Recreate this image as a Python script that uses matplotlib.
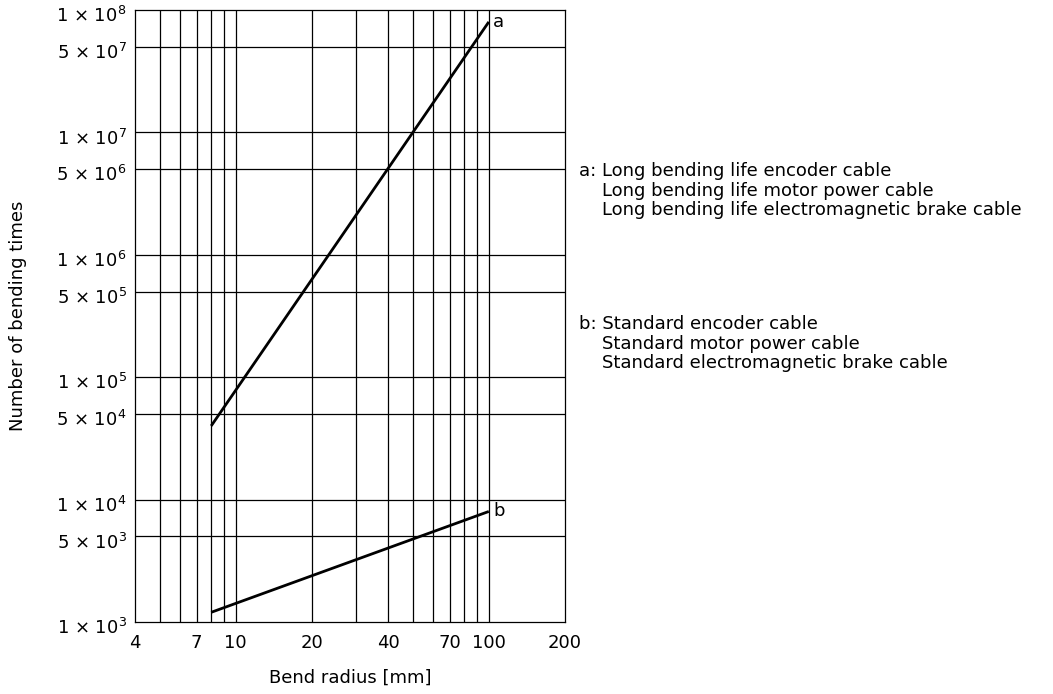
import matplotlib
matplotlib.use("Agg")
import matplotlib.pyplot as plt
from matplotlib.ticker import FixedLocator, NullLocator
from matplotlib.transforms import ScaledTranslation

plt.rcParams['font.family'] = ['DejaVu Sans']
plt.rcParams['mathtext.fontset'] = 'dejavusans'

# Data
radius_a = [8, 100]
times_a = [4e4, 8e7]
radius_b = [8, 100]
times_b = [1.2e3, 8e3]

x_grid = [5, 6, 7, 8, 9, 10, 20, 30, 40, 50, 60, 70, 80, 90, 100]
x_ticks = [4, 7, 10, 20, 40, 70, 100, 200]
y_ticks = [1e3, 5e3, 1e4, 5e4, 1e5, 5e5, 1e6, 5e6, 1e7, 5e7, 1e8]
y_labels = ['1 × 10$^{3}$', '5 × 10$^{3}$', '1 × 10$^{4}$', '5 × 10$^{4}$',
            '1 × 10$^{5}$', '5 × 10$^{5}$', '1 × 10$^{6}$', '5 × 10$^{6}$',
            '1 × 10$^{7}$', '5 × 10$^{7}$', '1 × 10$^{8}$']

legend_a = ["a: Long bending life encoder cable",
            "    Long bending life motor power cable",
            "    Long bending life electromagnetic brake cable"]
legend_b = ["b: Standard encoder cable",
            "    Standard motor power cable",
            "    Standard electromagnetic brake cable"]

FS = 13

fig = plt.figure(figsize=(10.53, 6.94), dpi=100)
ax = fig.add_axes([135/1053, 72/694, 430/1053, 612/694])
ax.set_xscale('log')
ax.set_yscale('log')
ax.set_xlim(4, 200)
ax.set_ylim(1e3, 1e8)

for xv in x_grid:
    ax.axvline(xv, color='black', lw=0.9, zorder=1)
for yv in y_ticks[1:-1]:
    ax.axhline(yv, color='black', lw=0.9, zorder=1)

ax.plot(radius_a, times_a, color='black', lw=2.0, zorder=3, solid_capstyle='butt')
ax.plot(radius_b, times_b, color='black', lw=2.0, zorder=3, solid_capstyle='butt')
ax.text(radius_a[-1] * 1.04, times_a[-1], 'a', fontsize=FS, ha='left', va='center')
ax.text(radius_b[-1] * 1.04, times_b[-1], 'b', fontsize=FS, ha='left', va='center')

ax.xaxis.set_major_locator(FixedLocator(x_ticks))
ax.xaxis.set_minor_locator(NullLocator())
ax.set_xticklabels([str(v) for v in x_ticks])
ax.yaxis.set_major_locator(FixedLocator(y_ticks))
ax.yaxis.set_minor_locator(NullLocator())
ax.set_yticklabels(y_labels)
ax.tick_params(axis='both', length=0, labelsize=FS)
ax.tick_params(axis='x', pad=9)
ax.tick_params(axis='y', pad=6)
for s in ax.spines.values():
    s.set_color('black')
    s.set_linewidth(0.9)

ax.set_xlabel('Bend radius [mm]', fontsize=FS, labelpad=12)
ax.set_ylabel('Number of bending times', fontsize=FS, labelpad=21)

for i, t in enumerate(legend_a):
    fig.text(579/1053, 1 - (171 + 19.5*i)/694, t, fontsize=FS, ha='left', va='center')
for i, t in enumerate(legend_b):
    fig.text(579/1053, 1 - (324 + 19.5*i)/694, t, fontsize=FS, ha='left', va='center')

shift = ScaledTranslation(0, -3/72, fig.dpi_scale_trans)
for lbl in ax.get_yticklabels():
    lbl.set_transform(lbl.get_transform() + shift)

fig.savefig('out.png', dpi=100)
